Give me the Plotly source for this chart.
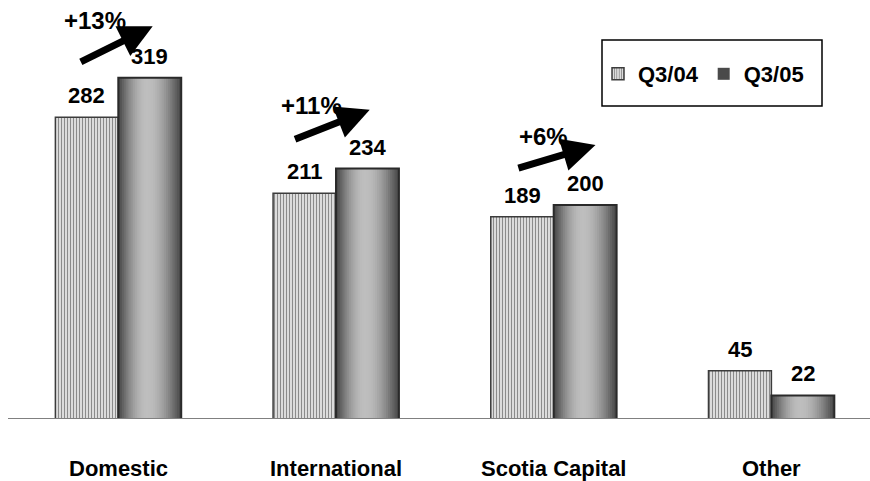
import math
import plotly.graph_objects as go

# ---- data ----
categories = ["Domestic", "International", "Scotia Capital", "Other"]
q3_04 = [282, 211, 189, 45]
q3_05 = [319, 234, 200, 22]
growth_labels = ["+13%", "+11%", "+6%"]

# ---- layout helpers (category index units / value units) ----
BAR_W = 0.289
FONT = "Liberation Sans, Arial, sans-serif"
x_idx = list(range(len(categories)))
x_04 = [i - BAR_W / 2 for i in x_idx]
x_05 = [i + BAR_W / 2 for i in x_idx]

# growth arrows: (tail dx, tail y, head dx, head y, text dx, text y)
arrow_geom = [
    (-0.179, 333, 0.158, 367, -0.107, 372),
    (-0.195, 261, 0.155, 289, -0.113, 293),
    (-0.169, 234, 0.192, 256, -0.047, 264),
]

fig = go.Figure()

# Q3/04: vertically striped bars
fig.add_trace(go.Bar(
    x=x_idx, y=q3_04, name="Q3/04", offset=-BAR_W, width=BAR_W,
    marker=dict(
        color="#d9d9d9",
        line=dict(color="#3c3c3c", width=1.5),
        pattern=dict(shape="|", size=3, solidity=0.33,
                     fgcolor="#8a8a8a", bgcolor="#dcdcdc", fillmode="replace"),
    ),
    hoverinfo="skip",
))

# Q3/05: shaded "cylinder" bars built from nested layers
dark = (74, 74, 74)
light = (190, 190, 190)
n_layers = 16
for k in range(n_layers):
    t = k / (n_layers - 1)
    left = 0.46 * t * 0.96
    right = 1 - 0.54 * t * 0.96
    f = math.sin(t * math.pi / 2)
    col = tuple(int(dark[j] + (light[j] - dark[j]) * f) for j in range(3))
    fig.add_trace(go.Bar(
        x=x_idx, y=q3_05,
        name="Q3/05",
        offset=left * BAR_W, width=(right - left) * BAR_W,
        marker=dict(color="rgb(%d,%d,%d)" % col, line=dict(width=0)),
        showlegend=(k == 0), legendgroup="q305",
        hoverinfo="skip",
    ))
# outline on top of the shaded layers
fig.add_trace(go.Bar(
    x=x_idx, y=q3_05, offset=0, width=BAR_W,
    marker=dict(color="rgba(0,0,0,0)", line=dict(color="#2a2a2a", width=2)),
    showlegend=False, hoverinfo="skip",
))

annotations = []
# value labels above each bar
for xs, vals in ((x_04, q3_04), (x_05, q3_05)):
    for xv, v in zip(xs, vals):
        annotations.append(dict(
            x=xv, y=v, text="<b>%d</b>" % v, showarrow=False,
            xanchor="center", yanchor="bottom", yshift=7,
            font=dict(family=FONT, size=22, color="black"),
        ))

# growth arrows and percentage labels
for i, (label, g) in enumerate(zip(growth_labels, arrow_geom)):
    tdx, ty, hdx, hy, lx, ly = g
    annotations.append(dict(
        x=i + hdx, y=hy, ax=i + tdx, ay=ty, axref="x", ayref="y",
        xref="x", yref="y", text="", showarrow=True,
        arrowhead=2, arrowsize=0.95, arrowwidth=7, arrowcolor="black",
        standoff=0, startstandoff=0,
    ))
    annotations.append(dict(
        x=i + lx, y=ly, text="<b>%s</b>" % label, showarrow=False,
        xanchor="center", yanchor="middle",
        font=dict(family=FONT, size=24, color="black"),
    ))

# category names under the baseline
for i, c in zip(x_idx, categories):
    annotations.append(dict(
        x=i, y=0, text="<b>%s</b>" % c, showarrow=False,
        xanchor="center", yanchor="middle", yshift=-49,
        font=dict(family=FONT, size=22, color="black"),
    ))

shapes = [
    # baseline
    dict(type="line", xref="paper", yref="y", x0=8 / 870, x1=1, y0=0, y1=0,
         line=dict(color="#808080", width=2)),
    # legend frame
    dict(type="rect", xref="paper", yref="paper",
         x0=602 / 870, x1=822 / 870, y0=1 - 106 / 419, y1=1 - 40 / 419,
         line=dict(color="black", width=1.5), fillcolor="rgba(0,0,0,0)"),
]

fig.update_layout(
    width=870, height=481,
    margin=dict(l=0, r=0, t=0, b=62, pad=0),
    paper_bgcolor="white", plot_bgcolor="white",
    barmode="overlay",
    showlegend=True,
    legend=dict(
        orientation="h", x=598 / 870, y=1 - 74 / 419,
        xanchor="left", yanchor="middle",
        font=dict(family=FONT, size=22, color="black", weight="bold"),
        bgcolor="rgba(0,0,0,0)", borderwidth=0, itemwidth=30,
        traceorder="normal",
    ),
    xaxis=dict(
        range=[-118.3 / 217.7, (870 - 118.3) / 217.7],
        showticklabels=False, ticks="",
        showgrid=False, zeroline=False, showline=False, automargin=False,
    ),
    yaxis=dict(
        range=[0, 419 / 1.07], visible=False, showgrid=False,
        zeroline=False, automargin=False,
    ),
    annotations=annotations,
    shapes=shapes,
)

fig.write_html("out.html")
